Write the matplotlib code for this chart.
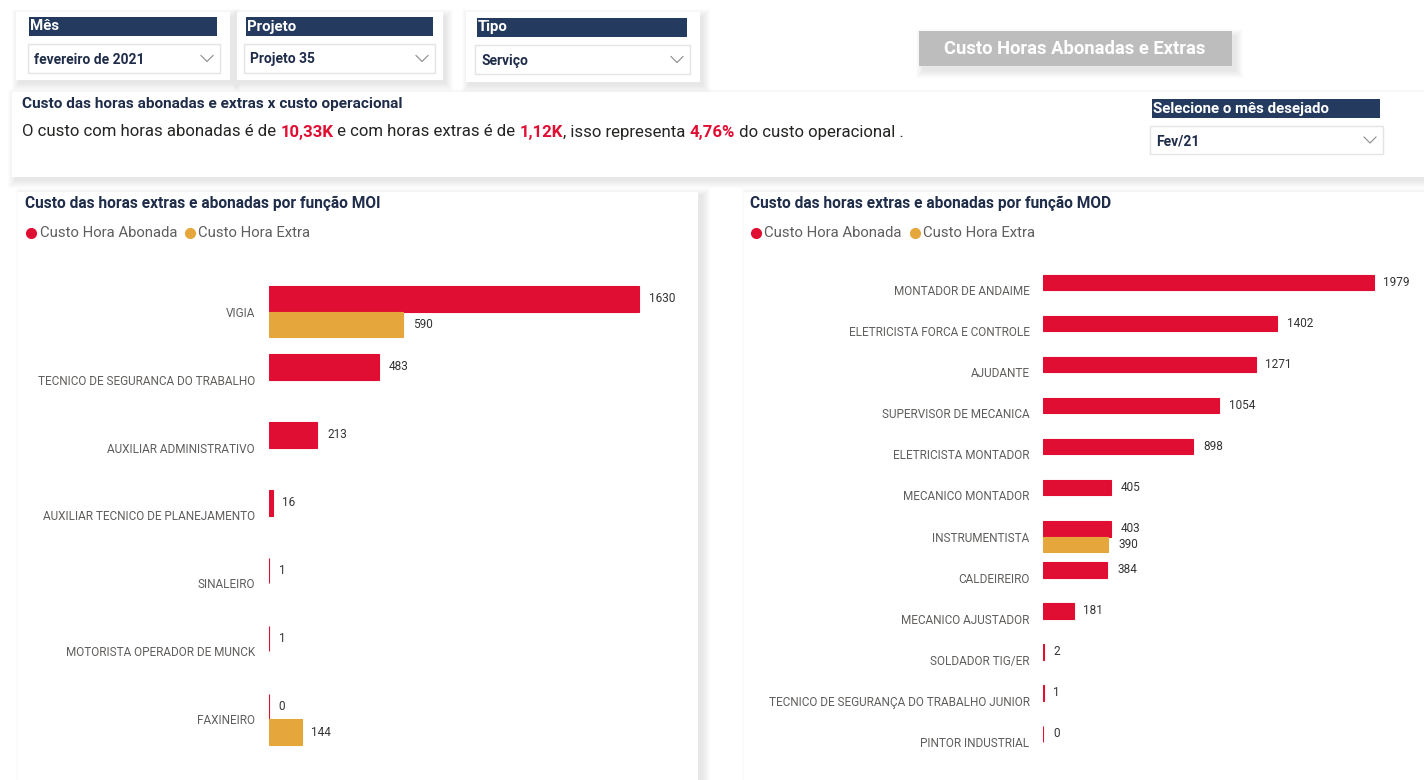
import matplotlib.pyplot as plt
from matplotlib.patches import Rectangle
import numpy as np

plt.rcParams['font.family'] = ['Roboto', 'DejaVu Sans']

# filtros (slicers)
filtro_nomes = ["Mês", "Projeto", "Tipo"]
filtro_valores = ["fevereiro de 2021", "Projeto 35", "Serviço"]
mes_sel = "Fev/21"

# resumo
custo_abonado = "10,33K"
custo_extra = "1,12K"
percentual = "4,76%"

# MOI
moi_funcoes = ["VIGIA", "TECNICO DE SEGURANCA DO TRABALHO", "AUXILIAR ADMINISTRATIVO",
               "AUXILIAR TECNICO DE PLANEJAMENTO", "SINALEIRO", "MOTORISTA OPERADOR DE MUNCK",
               "FAXINEIRO"]
moi_abonada = [1630, 483, 213, 16, 1, 1, 0]
moi_extra = [590, None, None, None, None, None, 144]

# MOD
mod_funcoes = ["MONTADOR DE ANDAIME", "ELETRICISTA FORCA E CONTROLE", "AJUDANTE",
               "SUPERVISOR DE MECANICA", "ELETRICISTA MONTADOR", "MECANICO MONTADOR",
               "INSTRUMENTISTA", "CALDEIREIRO", "MECANICO AJUSTADOR", "SOLDADOR TIG/ER",
               "TECNICO DE SEGURANÇA DO TRABALHO JUNIOR", "PINTOR INDUSTRIAL"]
mod_abonada = [1979, 1402, 1271, 1054, 898, 405, 403, 384, 181, 2, 1, 0]
mod_extra = [None, None, None, None, None, None, 390, None, None, None, None, None]

RED = '#E00E32'
ORANGE = '#E5A73B'
NAVY = '#243A5E'
TXT_NAVY = '#1F2D4A'
GRAY = '#605E5C'
W, H = 1424, 780

fig = plt.figure(figsize=(W / 100, H / 100), dpi=100)
fig.patch.set_facecolor('white')
bg = fig.add_axes([0, 0, 1, 1])
bg.set_xlim(0, W)
bg.set_ylim(H, 0)
bg.axis('off')


def panel(x0, y0, x1, y1, color='white', dx=3, dy=4):
    # sombra suave
    for i in range(8):
        bg.add_patch(Rectangle((x0 + dx - i, y0 + dy - i), x1 - x0 + 2 * i, y1 - y0 + 2 * i,
                               facecolor='black', alpha=0.011, lw=0, zorder=1))
    bg.add_patch(Rectangle((x0, y0), x1 - x0, y1 - y0, facecolor=color, lw=0, zorder=2))


def chevron(x, y):
    bg.plot([x - 6, x, x + 6], [y - 3, y + 3, y - 3], color='#8A8A8A', lw=0.8, zorder=4)


def slicer(hx0, hx1, hy0, hy1, dx0, dx1, dy0, dy1, nome, valor):
    bg.add_patch(Rectangle((hx0, hy0), hx1 - hx0, hy1 - hy0, facecolor=NAVY, lw=0, zorder=3))
    bg.text(hx0 + 1, (hy0 + hy1) / 2, nome, color='white', fontsize=10.8, fontweight='bold',
            va='center', ha='left', zorder=4)
    bg.add_patch(Rectangle((dx0, dy0), dx1 - dx0, dy1 - dy0, facecolor='white',
                           edgecolor='#E4E4E4', lw=1, zorder=3))
    bg.text(dx0 + 6, (dy0 + dy1) / 2 + 1, valor, color=TXT_NAVY, fontsize=10, fontweight='bold',
            va='center', ha='left', zorder=4)
    chevron(dx1 - 13, (dy0 + dy1) / 2)


# slicers do topo
panel(16, 12, 230, 80)
panel(237, 12, 443, 80)
panel(466, 12, 700, 82)
slicer(29, 217, 17, 36, 28, 220, 44, 73, filtro_nomes[0], filtro_valores[0])
slicer(246, 433, 17, 36, 244, 435, 44, 73, filtro_nomes[1], filtro_valores[1])
slicer(477, 687, 18, 37, 475, 690, 45, 74, filtro_nomes[2], filtro_valores[2])

# botao
panel(919, 31, 1232, 66, color='#BDBDBD', dx=4, dy=5)
bg.text(1075, 49, "Custo Horas Abonadas e Extras", color='white', fontsize=13.2, fontweight='bold',
        ha='center', va='center', zorder=4)

# cartao de texto
panel(12, 92, W + 10, 177)
bg.text(22, 104, "Custo das horas abonadas e extras x custo operacional", color=TXT_NAVY,
        fontsize=11.1, fontweight='bold', ha='left', va='center', zorder=4)
pecas = [("O custo com horas abonadas é de ", False), (custo_abonado, True),
         (" e com horas extras é de ", False), (custo_extra, True),
         (", isso representa ", False), (percentual, True),
         (" do custo operacional .", False)]
prev = None
for txt, destaque in pecas:
    kw = dict(color=RED if destaque else '#252423', fontsize=12.1,
              fontweight='bold' if destaque else 'normal', zorder=4)
    if prev is None:
        prev = bg.text(22, 132, txt, ha='left', va='center', **kw)
    else:
        prev = bg.annotate(txt, xy=(1, 0), xycoords=prev, ha='left', va='bottom', **kw)

slicer(1152, 1380, 99, 118, 1150, 1383, 126, 154, "Selecione o mês desejado", mes_sel)

# paineis dos graficos
panel(18, 192, 698, H + 20, dx=5, dy=3)
panel(744, 192, W + 20, H + 20, dx=5, dy=3)


def draw_chart(rect_px, funcoes, abonada, extra, xmax, titulo, tx, legx):
    x0, y0, x1, y1 = rect_px
    ax = fig.add_axes([x0 / W, 1 - y1 / H, (x1 - x0) / W, (y1 - y0) / H])
    ax.patch.set_alpha(0)
    y = np.arange(len(funcoes))
    h = 0.38
    ax.barh(y - h / 2, abonada, height=h, color=RED, edgecolor=RED, linewidth=0.8)
    for yi, v in zip(y, abonada):
        ax.annotate(str(v), (v, yi - h / 2), xytext=(7, 0), textcoords='offset points',
                    ha='left', va='center', fontsize=8.5, color='#333333')
    ey = [yi + h / 2 for yi, v in zip(y, extra) if v is not None]
    ev = [v for v in extra if v is not None]
    ax.barh(ey, ev, height=h, color=ORANGE, edgecolor=ORANGE, linewidth=0.8)
    for yi, v in zip(ey, ev):
        ax.annotate(str(v), (v, yi), xytext=(7, 0), textcoords='offset points',
                    ha='left', va='center', fontsize=8.5, color='#333333')
    ax.set_ylim(len(funcoes) - 0.5, -0.5)
    ax.set_xlim(0, xmax)
    ax.set_yticks(y, funcoes)
    ax.tick_params(axis='y', length=0, pad=10, labelsize=8.45, labelcolor=GRAY)
    ax.set_xticks([])
    for s in ax.spines.values():
        s.set_visible(False)

    bg.text(tx, 203, titulo, color=TXT_NAVY, fontsize=11.2, fontweight='bold',
            ha='left', va='center', zorder=4)
    bg.plot([legx], [233], 'o', color=RED, markersize=7, zorder=4)
    bg.text(legx + 8.5, 233, "Custo Hora Abonada", color=GRAY, fontsize=10.7,
            ha='left', va='center', zorder=4)
    bg.plot([legx + 159], [233], 'o', color=ORANGE, markersize=7, zorder=4)
    bg.text(legx + 167, 233, "Custo Hora Extra", color=GRAY, fontsize=10.7,
            ha='left', va='center', zorder=4)
    return ax


draw_chart((269, 277.7, 690, 753.3), moi_funcoes, moi_abonada, moi_extra, 421 / 0.2272,
           "Custo das horas extras e abonadas por função MOI", 25, 31)
draw_chart((1043.4, 269.8, 1415, 762.2), mod_funcoes, mod_abonada, mod_extra, 371.6 / 0.1669,
           "Custo das horas extras e abonadas por função MOD", 750, 756)

fig.savefig('out.png', dpi=100)
